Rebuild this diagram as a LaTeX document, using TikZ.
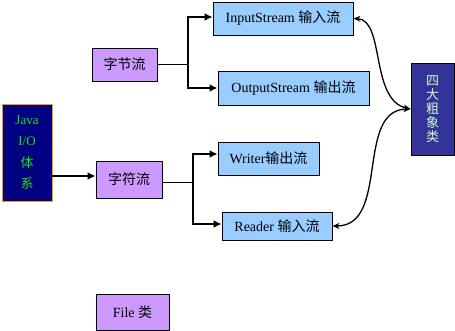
\documentclass[tikz,border=0pt]{standalone}
\usepackage{fontspec}
\setmainfont{Liberation Serif}
\newfontfamily\cjk{Noto Sans CJK SC}
\usetikzlibrary{arrows.meta}
\definecolor{purp}{RGB}{204,153,255}
\definecolor{lblue}{RGB}{153,204,255}
\definecolor{navy}{RGB}{0,0,128}
\definecolor{indig}{RGB}{51,51,153}
\definecolor{orng}{RGB}{255,153,0}
\definecolor{jgreen}{RGB}{20,230,20}
\definecolor{pale}{RGB}{204,255,204}
\begin{document}
\begin{tikzpicture}[x=1pt,y=-1pt,
  box/.style={draw=black,line width=0.9pt,inner sep=0pt,font=\fontsize{14}{16}\selectfont},
  pbox/.style={box,fill=purp},
  bbox/.style={box,fill=lblue},
  thin/.style={line width=0.9pt},
  brk/.style={line width=2pt,-{Latex[length=8pt,width=8pt]}},
  curv/.style={line width=1.3pt,{Stealth[length=7pt,width=6pt]}-{Stealth[length=7pt,width=6pt]}}]
\useasboundingbox (0,0) rectangle (455,331);
% nodes
\node[box,fill=navy,draw=orng,text=jgreen,align=center,minimum width=50pt,minimum height=97pt,
  font=\fontsize{13}{21.5}\selectfont] (java) at (27,152.5) {Java\\I/O\\{\cjk 体}\\{\cjk 系}};
\node[pbox,minimum width=65pt,minimum height=33pt] (zjl) at (124.5,64.5) {\cjk 字节流};
\node[pbox,minimum width=66pt,minimum height=37pt] (zfl) at (129,179.5) {\cjk 字符流};
\node[pbox,minimum width=73pt,minimum height=36pt] (file) at (132.5,312) {File {\cjk 类}};
\node[bbox,minimum width=140pt,minimum height=33pt] (in) at (283,18.5) {InputStream {\cjk 输入流}};
\node[bbox,minimum width=151pt,minimum height=34pt] (out) at (293.5,88) {OutputStream {\cjk 输出流}};
\node[bbox,minimum width=101pt,minimum height=33pt] (wr) at (268.5,158.5) {Writer{\cjk 输出流}};
\node[bbox,minimum width=110pt,minimum height=28pt] (rd) at (277,226) {Reader {\cjk 输入流}};
\node[box,fill=indig,text=pale,align=center,minimum width=43pt,minimum height=92pt,
  font=\fontsize{13}{14}\selectfont\cjk] (sida) at (432.5,109) {四\\大\\粗\\象\\类};
% junctions
\coordinate (j1) at (188,64.5);
\coordinate (j2) at (193,182);
\coordinate (zin) at ([yshift=3.5pt]zfl.west);
% connectors
\draw[thin] (zjl.east) -- (j1);
\draw[brk] (j1) |- ([yshift=1.5pt]in.west);
\draw[brk] (j1) |- (out.west);
\draw[thin] (zfl.east |- j2) -- (j2);
\draw[brk] (j2) |- ([yshift=4.5pt]wr.west);
\draw[brk] (j2) |- ([yshift=2pt]rd.west);
\draw[brk] (java.east |- zin) -- (zin);
\draw[curv] (in.east) .. controls (385,20) and (370,100) .. (sida.west);
\draw[curv] (rd.east) .. controls (390,226) and (355,110) .. (sida.west);
\end{tikzpicture}
\end{document}
